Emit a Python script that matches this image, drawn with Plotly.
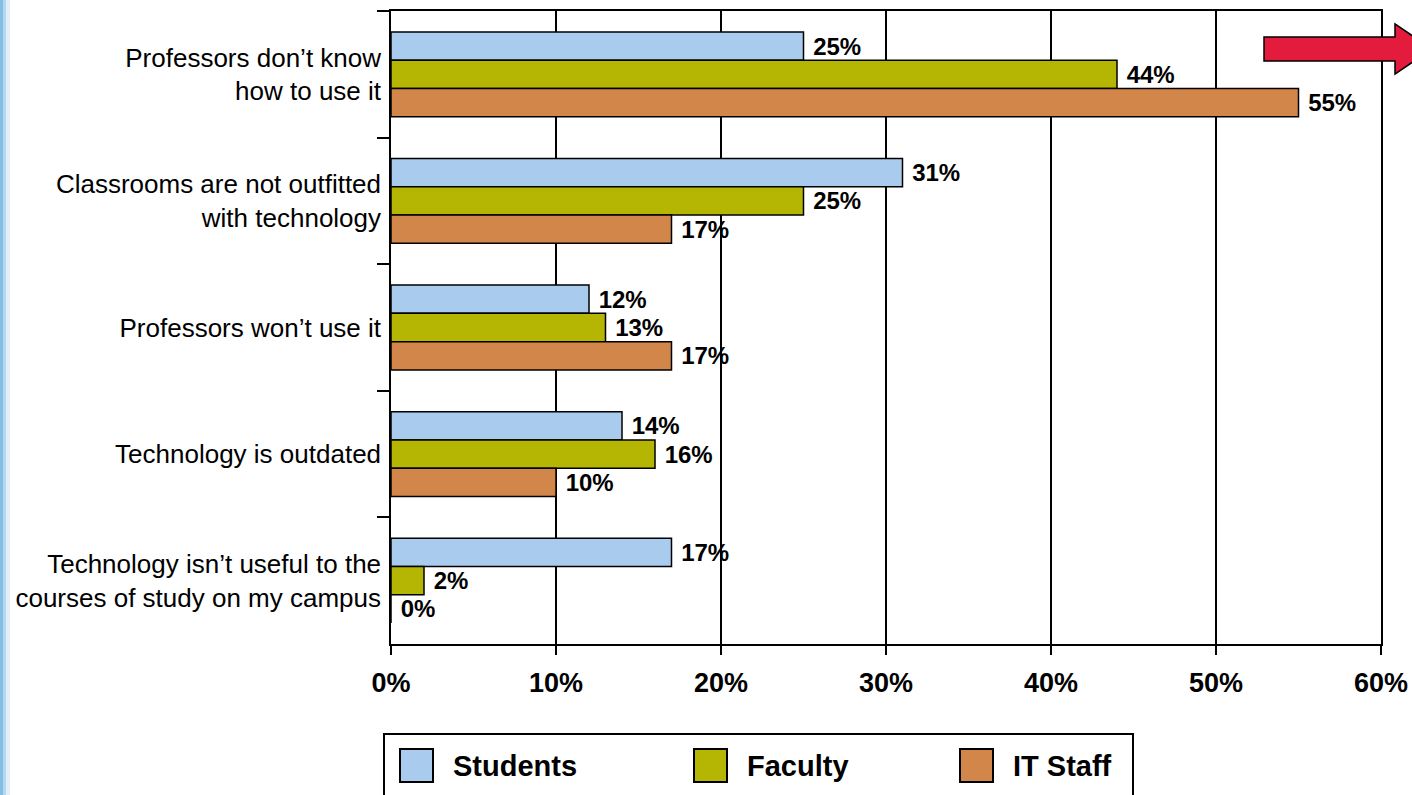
import plotly.graph_objects as go

# Survey responses: barriers to classroom technology use (% of respondents)
categories = [
    "Professors don’t know<br>how to use it",
    "Classrooms are not outfitted<br>with technology",
    "Professors won’t use it",
    "Technology is outdated",
    "Technology isn’t useful to the<br>courses of study on my campus",
]
series_names = ["Students", "Faculty", "IT Staff"]
students = [25, 31, 12, 14, 17]
faculty = [44, 25, 13, 16, 2]
it_staff = [55, 17, 17, 10, 0]
x_ticks = [0, 10, 20, 30, 40, 50, 60]
x_tick_labels = [f"{v}%" for v in x_ticks]

series_values = [students, faculty, it_staff]
series_colors = ["#A9CBEE", "#B5B503", "#D3864A"]

W, H = 1412, 795
ML, MR, MT, MB = 391, 31, 11, 151
FONT = "Liberation Sans, Arial, sans-serif"


def px(x):
    return (x - ML) / (W - ML - MR)


def py(y):
    return (H - MB - y) / (H - MT - MB)


fig = go.Figure()
for name, vals, col in zip(series_names, series_values, series_colors):
    fig.add_trace(go.Bar(
        name=name,
        orientation="h",
        y=categories,
        x=vals,
        text=[f"{v}%" for v in vals],
        marker=dict(color=col, line=dict(color="black", width=1.5)),
        texttemplate="\u00a0%{text}",
        textposition="outside",
        constraintext="none",
        cliponaxis=False,
        textfont=dict(family=FONT, size=24, color="black", weight="bold"),
    ))

shapes = []

# slide edge on the left
for x0, x1, c in [(0, 3, "#86BDE4"), (3, 6, "#B6D7F0"), (6, 10, "#E2EFFA")]:
    shapes.append(dict(type="rect", xref="paper", yref="paper",
                       x0=px(x0), x1=px(x1), y0=py(0), y1=py(H),
                       fillcolor=c, line=dict(width=0), layer="below"))

# red arrow, top right
arrow_pts = [(1264, 37), (1395, 37), (1395, 24), (1432, 49), (1395, 74),
             (1395, 61), (1264, 61)]
path = "M " + " L ".join(f"{px(a):.5f},{py(b):.5f}" for a, b in arrow_pts) + " Z"
shapes.append(dict(type="path", xref="paper", yref="paper", path=path,
                   fillcolor="#E31B3C", line=dict(color="black", width=1.5)))

# legend box
shapes.append(dict(type="rect", xref="paper", yref="paper",
                   x0=px(384), x1=px(1133), y0=py(734), y1=py(805),
                   fillcolor="white", line=dict(color="black", width=2)))

annotations = []
swatch_x = [400, 694, 960]
for sx, name, col in zip(swatch_x, series_names, series_colors):
    shapes.append(dict(type="rect", xref="paper", yref="paper",
                       x0=px(sx), x1=px(sx + 33), y0=py(749), y1=py(782),
                       fillcolor=col, line=dict(color="black", width=2)))
    annotations.append(dict(xref="paper", yref="paper", x=px(sx + 51), y=py(766),
                            xanchor="left", yanchor="middle", showarrow=False,
                            text=name,
                            font=dict(family=FONT, size=29, color="black", weight="bold")))

fig.update_layout(
    width=W, height=H,
    margin=dict(l=ML, r=MR, t=MT, b=MB, pad=0, autoexpand=False),
    paper_bgcolor="white", plot_bgcolor="white",
    barmode="group", bargap=0.33, bargroupgap=0,
    showlegend=False,
    shapes=shapes,
    annotations=annotations,
    font=dict(family=FONT, color="black"),
)

fig.update_xaxes(
    range=[0, 60], tickmode="array", tickvals=x_ticks, ticktext=x_tick_labels,
    showgrid=True, gridcolor="black", gridwidth=1.5,
    showline=True, linecolor="black", linewidth=1.5, mirror=True,
    ticks="outside", ticklen=9, tickwidth=1.5, tickcolor="black",
    zeroline=False, automargin=False, ticklabelstandoff=5,
    tickfont=dict(family=FONT, size=27, color="black", weight="bold"),
)

fig.update_yaxes(
    categoryorder="array", categoryarray=categories, autorange="reversed",
    showgrid=False, zeroline=False, automargin=False,
    showline=True, linecolor="black", linewidth=1.5, mirror=True,
    ticks="outside", tickson="boundaries", ticklen=12, tickwidth=1.5, tickcolor="black",
    ticklabelstandoff=3,
    tickfont=dict(family=FONT, size=26, color="black"),
)

fig.write_html("out.html")
